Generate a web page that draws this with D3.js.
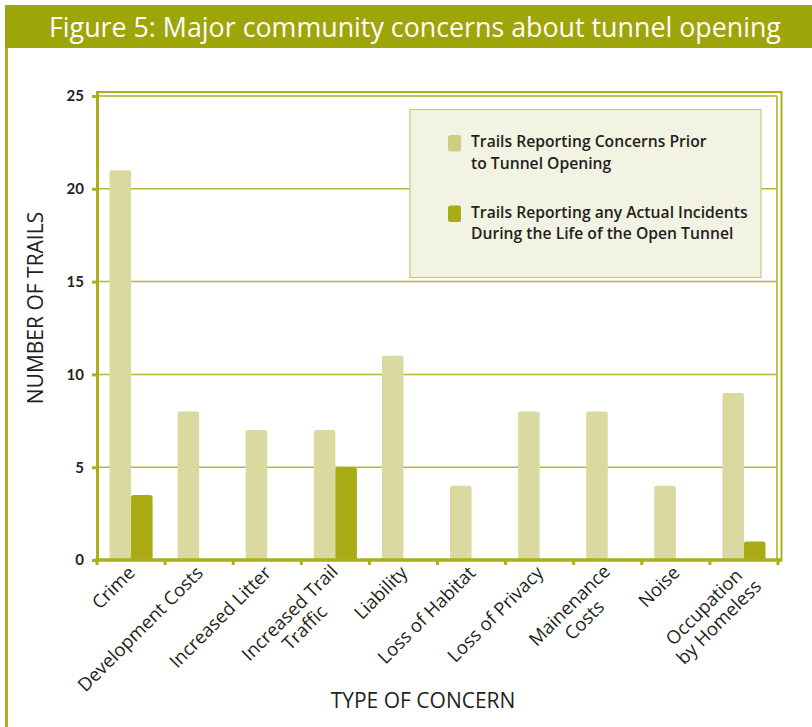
<!DOCTYPE html>
<html>
<head>
<meta charset="utf-8">
<script src="https://cdn.jsdelivr.net/npm/d3@7"></script>
<style>
  html, body { margin: 0; padding: 0; background: #fff; }
  svg { display: block; font-family: "Open Sans", Lato, sans-serif; }
</style>
</head>
<body>
<svg id="chart" width="812" height="727"></svg>
<script>
// ── Data ──────────────────────────────────────────────────────────────────────
const categories = [
  ['Crime'], ['Development Costs'], ['Increased Litter'], ['Increased Trail', 'Traffic'],
  ['Liability'], ['Loss of Habitat'], ['Loss of Privacy'], ['Mainenance', 'Costs'],
  ['Noise'], ['Occupation', 'by Homeless']
];
const seriesNames = [
  'Trails Reporting Concerns Prior to Tunnel Opening',
  'Trails Reporting any Actual Incidents During the Life of the Open Tunnel'
];
const legendLines = [
  ['Trails Reporting Concerns Prior', 'to Tunnel Opening'],
  ['Trails Reporting any Actual Incidents', 'During the Life of the Open Tunnel']
];
const priorConcerns   = [21, 8, 7, 7, 11, 4, 8, 8, 4, 9];
const actualIncidents = [3.5, 0, 0, 5, 0, 0, 0, 0, 0, 1];
const yTicks = [0, 5, 10, 15, 20, 25];

// ── Styles ────────────────────────────────────────────────────────────────────
const OLIVE      = '#9ea509';
const AXIS_COL   = '#a9b01a';
const GRID_COL   = '#b3b83a';
const LIGHT_BAR  = '#d9d9a0';
const DARK_BAR   = '#a8ab14';
const TEXT_COL   = '#231f20';
const colors     = [LIGHT_BAR, DARK_BAR];

const svg = d3.select('#chart');
const keys = categories.map(c => c.join(' '));

// ── Frame + title band ────────────────────────────────────────────────────────
svg.append('rect').attr('x', 5).attr('y', 5).attr('width', 807).attr('height', 43).attr('fill', OLIVE);
svg.append('line').attr('x1', 6.5).attr('x2', 6.5).attr('y1', 48).attr('y2', 727)
  .attr('stroke', AXIS_COL).attr('stroke-width', 3);
svg.append('text').attr('x', 49).attr('y', 36.5)
  .attr('fill', '#fff').attr('font-size', 26.8).attr('font-weight', 400)
  .text('Figure 5: Major community concerns about tunnel opening');

// ── Scales ────────────────────────────────────────────────────────────────────
const x = d3.scaleBand().domain(keys).range([97, 778]).padding(0);
const xs = d3.scaleBand().domain([0, 1]).range([0, x.bandwidth()]).paddingOuter(0.58);
const y = d3.scaleLinear().domain([0, 25]).range([560, 96]);

// outer double frame
svg.append('rect').attr('x', 97).attr('y', 92).attr('width', 684.5).attr('height', 468)
  .attr('fill', 'none').attr('stroke', AXIS_COL).attr('stroke-width', 2);
svg.append('line').attr('x1', 99).attr('x2', 777).attr('y1', y(25)).attr('y2', y(25))
  .attr('stroke', AXIS_COL).attr('stroke-width', 1.5);
svg.append('line').attr('x1', 777).attr('x2', 777).attr('y1', y(25)).attr('y2', 560)
  .attr('stroke', AXIS_COL).attr('stroke-width', 1.5);

// gridlines
svg.append('g').selectAll('line').data(yTicks.filter(t => t > 0 && t < 25)).join('line')
  .attr('x1', 97).attr('x2', 777).attr('y1', d => y(d)).attr('y2', d => y(d))
  .attr('stroke', GRID_COL).attr('stroke-width', 1.5);

// ── Legend ────────────────────────────────────────────────────────────────────
const lg = svg.append('g');
lg.append('rect').attr('x', 410).attr('y', 109.5).attr('width', 351).attr('height', 168)
  .attr('fill', '#f3f3e4').attr('stroke', '#c8ca74').attr('stroke-width', 1.2);
seriesNames.forEach((s, i) => {
  const top = 135 + i * 70.5;
  lg.append('rect').attr('x', 448).attr('y', top).attr('width', 13).attr('height', 16.5)
    .attr('rx', 2.5).attr('fill', i === 0 ? '#cdcd85' : DARK_BAR);
  legendLines[i].forEach((t, j) => {
    lg.append('text').attr('x', 471).attr('y', top + 12 + j * 21.5)
      .attr('font-size', 15.7).attr('font-weight', 600).attr('fill', TEXT_COL).text(t);
  });
});

// ── Bars ──────────────────────────────────────────────────────────────────────
const barPath = (x0, w, v) => {
  const y0 = y(0), y1 = y(v), r = Math.min(2.5, (y0 - y1) / 2);
  return `M${x0},${y0}V${y1 + r}Q${x0},${y1} ${x0 + r},${y1}H${x0 + w - r}Q${x0 + w},${y1} ${x0 + w},${y1 + r}V${y0}Z`;
};
const rows = keys.map((k, i) => ({ k, vals: [priorConcerns[i], actualIncidents[i]] }));
const groups = svg.append('g').selectAll('g').data(rows).join('g')
  .attr('transform', d => `translate(${x(d.k)},0)`);
groups.selectAll('path').data(d => d.vals.map((v, s) => ({ v, s })).filter(e => e.v > 0)).join('path')
  .attr('d', e => barPath(xs(e.s), xs.bandwidth(), e.v))
  .attr('fill', e => colors[e.s]);

// ── Axes ──────────────────────────────────────────────────────────────────────
// x axis baseline and ticks at category edges
svg.append('line').attr('x1', 95).attr('x2', 782).attr('y1', 560).attr('y2', 560)
  .attr('stroke', AXIS_COL).attr('stroke-width', 3.5);
const edges = keys.map(k => x(k)).concat([x.range()[1]]);
svg.append('g').selectAll('line').data(edges).join('line')
  .attr('x1', d => d).attr('x2', d => d).attr('y1', 560).attr('y2', 565)
  .attr('stroke', AXIS_COL).attr('stroke-width', 3);

// y axis
svg.append('line').attr('x1', 97.5).attr('x2', 97.5).attr('y1', 92).attr('y2', 562)
  .attr('stroke', AXIS_COL).attr('stroke-width', 3);
const yAxis = d3.axisLeft(y).tickValues(yTicks).tickSize(6).tickPadding(8).tickFormat(d3.format('d'));
const yg = svg.append('g').attr('transform', 'translate(98,0)').call(yAxis);
yg.select('.domain').remove();
yg.selectAll('.tick line').attr('stroke', AXIS_COL).attr('stroke-width', 3);
yg.selectAll('.tick text').attr('font-size', 15).attr('font-weight', 700).attr('fill', TEXT_COL)
  .attr('font-family', 'Lato, sans-serif');

// x tick labels (rotated, multi-line centred)
const lab = svg.append('g').selectAll('g').data(categories).join('g')
  .attr('transform', (c, i) => `translate(${x(keys[i]) + x.bandwidth() / 2 + 5},${574}) rotate(-45)`);
lab.each(function(lines) {
  const g = d3.select(this);
  const t = g.selectAll('text').data(lines).join('text')
    .attr('font-size', 18.5).attr('fill', TEXT_COL)
    .attr('dy', (d, j) => lines.length === 1 ? 0 : (j === 0 ? -2 : 19))
    .text(d => d);
  const w = d3.max(t.nodes(), n => n.getComputedTextLength());
  t.attr('text-anchor', 'middle').attr('x', -w / 2);
});

// axis titles
svg.append('text').attr('transform', 'translate(43,308) rotate(-90)')
  .attr('text-anchor', 'middle').attr('font-size', 21).attr('fill', TEXT_COL)
  .text('NUMBER OF TRAILS');
svg.append('text').attr('x', 423).attr('y', 708)
  .attr('text-anchor', 'middle').attr('font-size', 21).attr('fill', TEXT_COL)
  .text('TYPE OF CONCERN');
</script>
</body>
</html>
